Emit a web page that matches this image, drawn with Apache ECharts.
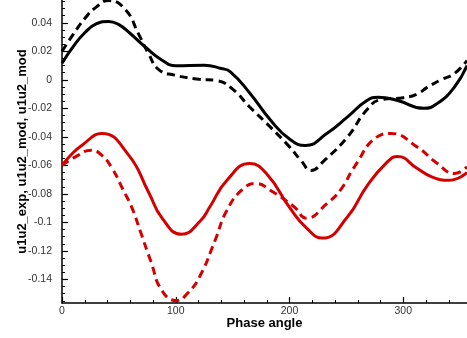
<!DOCTYPE html>
<html>
<head>
<meta charset="utf-8">
<script src="https://cdn.jsdelivr.net/npm/echarts@6/dist/echarts.min.js"></script>
<style>
html,body{margin:0;padding:0;background:#fff;}
#c{width:467px;height:338px;}
</style>
</head>
<body>
<div id="c"></div>
<script>
// Values (phase angle in degrees)
// black solid: u1u2_exp
var expBlackPhase = [0, 10, 20, 30, 41, 50, 60, 73, 88, 100, 125, 140, 148, 165, 183, 200, 214, 233, 251, 268, 278, 295, 318, 330, 345, 356];
var expBlackValue = [0.0117, 0.0235, 0.0330, 0.0392, 0.0410, 0.0387, 0.0325, 0.0232, 0.0138, 0.0099, 0.0103, 0.0080, 0.0056, -0.0092, -0.0280, -0.0415, -0.0460, -0.0375, -0.0260, -0.0145, -0.0122, -0.0145, -0.0200, -0.0165, -0.0050, 0.0100];
// black dashed: u1u2_mod
var modBlackPhase = [0, 10, 20, 30, 41, 56, 67, 76, 85, 99, 120, 136, 150, 165, 183, 200, 210, 219, 230, 251, 268, 280, 300, 312, 321, 333, 345, 356];
var modBlackValue = [0.0200, 0.0320, 0.0430, 0.0510, 0.0556, 0.0490, 0.0326, 0.0185, 0.0072, 0.0033, 0.0005, -0.0005, -0.0065, -0.0190, -0.0330, -0.0470, -0.0565, -0.0635, -0.0570, -0.0400, -0.0210, -0.0140, -0.0125, -0.0100, -0.0053, 0.0000, 0.0045, 0.0135];
// red solid: u1u2_exp
var expRedPhase = [0, 8, 17.6, 35, 58.6, 76, 88, 105, 121.5, 130, 145, 165, 180, 200, 215, 229, 251, 268, 286, 295, 312, 325, 340, 356];
var expRedValue = [-0.0600, -0.0525, -0.0458, -0.0376, -0.0528, -0.0786, -0.0970, -0.1083, -0.0990, -0.0890, -0.0704, -0.0587, -0.0660, -0.0895, -0.1040, -0.1110, -0.0960, -0.0745, -0.0575, -0.0538, -0.0620, -0.0680, -0.0705, -0.0650];
// red dashed: u1u2_mod
var modRedPhase = [0, 11.7, 26, 35, 44, 53, 61.6, 69, 78, 88, 101, 110, 121, 134.6, 145, 159.5, 171, 183, 204, 215, 233, 245, 257, 277, 289, 312, 330, 345, 356];
var modRedValue = [-0.0600, -0.0540, -0.0493, -0.0530, -0.0620, -0.0760, -0.0900, -0.1066, -0.1270, -0.1480, -0.1548, -0.1500, -0.1380, -0.1125, -0.0914, -0.0762, -0.0727, -0.0774, -0.0890, -0.0970, -0.0867, -0.0770, -0.0610, -0.0400, -0.0376, -0.0470, -0.0587, -0.0657, -0.0610];

var xMajor = [0, 100, 200, 300];
var xMinor = [20, 40, 60, 80, 120, 140, 160, 180, 220, 240, 260, 280, 320, 340];
var yMajor = [0.04, 0.02, 0, -0.02, -0.04, -0.06, -0.08, -0.1, -0.12, -0.14];
var yMinor = [0.055, 0.05, 0.045, 0.035, 0.03, 0.025, 0.015, 0.01, 0.005, -0.005, -0.01, -0.015, -0.025, -0.03, -0.035, -0.045, -0.05, -0.055, -0.065, -0.07, -0.075, -0.085, -0.09, -0.095, -0.105, -0.11, -0.115, -0.125, -0.13, -0.135, -0.145, -0.15, -0.155];

var xTitle = 'Phase angle';
var yTitle = 'u1u2_exp, u1u2_mod, u1u2_mod';

var X_MIN = 0, X_MAX = 356, Y_MIN = -0.1565, Y_MAX = 0.056;

function pairs(xs, ys){ return xs.map(function(x,i){ return [x, ys[i]]; }); }

var font = 'Liberation Sans, Arial, sans-serif';
var chart = echarts.init(document.getElementById('c'), null, {renderer:'canvas'});
var option = {
  animation: false,
  grid: {left: 62, right: 0, top: 0, bottom: 35, containLabel: false, outerBoundsMode: 'none'},
  xAxis: [{
    type: 'value', min: X_MIN, max: X_MAX, position: 'bottom',
    name: xTitle, nameLocation: 'middle', nameGap: 14, nameMoveOverlap: false,
    nameTextStyle: {fontFamily: font, fontWeight: 'bold', fontSize: 13, color: '#000'},
    axisLine: {show: true, onZero: false, lineStyle: {color: '#000', width: 1.5}},
    axisTick: {show: true, inside: true, length: 6, lineStyle: {color: '#000', width: 1.2}, customValues: xMajor},
    axisLabel: {show: true, fontFamily: font, fontSize: 10.5, color: '#333', margin: 3, customValues: xMajor},
    splitLine: {show: false}
  }, {
    type: 'value', min: X_MIN, max: X_MAX, position: 'bottom',
    axisLine: {show: false, onZero: false},
    axisTick: {show: true, inside: true, length: 3, lineStyle: {color: '#000', width: 1}, customValues: xMinor},
    axisLabel: {show: false},
    splitLine: {show: false}
  }],
  yAxis: [{
    type: 'value', min: Y_MIN, max: Y_MAX, position: 'left',
    name: yTitle, nameLocation: 'middle', nameGap: 33, nameRotate: 90, nameMoveOverlap: false,
    nameTextStyle: {fontFamily: font, fontWeight: 'bold', fontSize: 13, color: '#000'},
    axisLine: {show: true, onZero: false, lineStyle: {color: '#000', width: 1.5}},
    axisTick: {show: true, inside: true, length: 6, lineStyle: {color: '#000', width: 1.2}, customValues: yMajor},
    axisLabel: {show: true, fontFamily: font, fontSize: 10.5, color: '#333', margin: 10, customValues: yMajor},
    splitLine: {show: false}
  }, {
    type: 'value', min: Y_MIN, max: Y_MAX, position: 'left',
    axisLine: {show: false, onZero: false},
    axisTick: {show: true, inside: true, length: 3, lineStyle: {color: '#000', width: 1}, customValues: yMinor},
    axisLabel: {show: false},
    splitLine: {show: false}
  }],
  series: [
    {type: 'line', data: pairs(expBlackPhase, expBlackValue), smooth: 0.5, showSymbol: false, lineStyle: {color: '#000', width: 3}},
    {type: 'line', data: pairs(modBlackPhase, modBlackValue), smooth: 0.5, showSymbol: false, lineStyle: {color: '#000', width: 3, type: [8, 5]}},
    {type: 'line', data: pairs(expRedPhase, expRedValue), smooth: 0.5, showSymbol: false, lineStyle: {color: '#d40000', width: 3}},
    {type: 'line', data: pairs(modRedPhase, modRedValue), smooth: 0.5, showSymbol: false, lineStyle: {color: '#d40000', width: 3, type: [8, 5]}}
  ]
};
chart.setOption(option);
</script>
</body>
</html>
